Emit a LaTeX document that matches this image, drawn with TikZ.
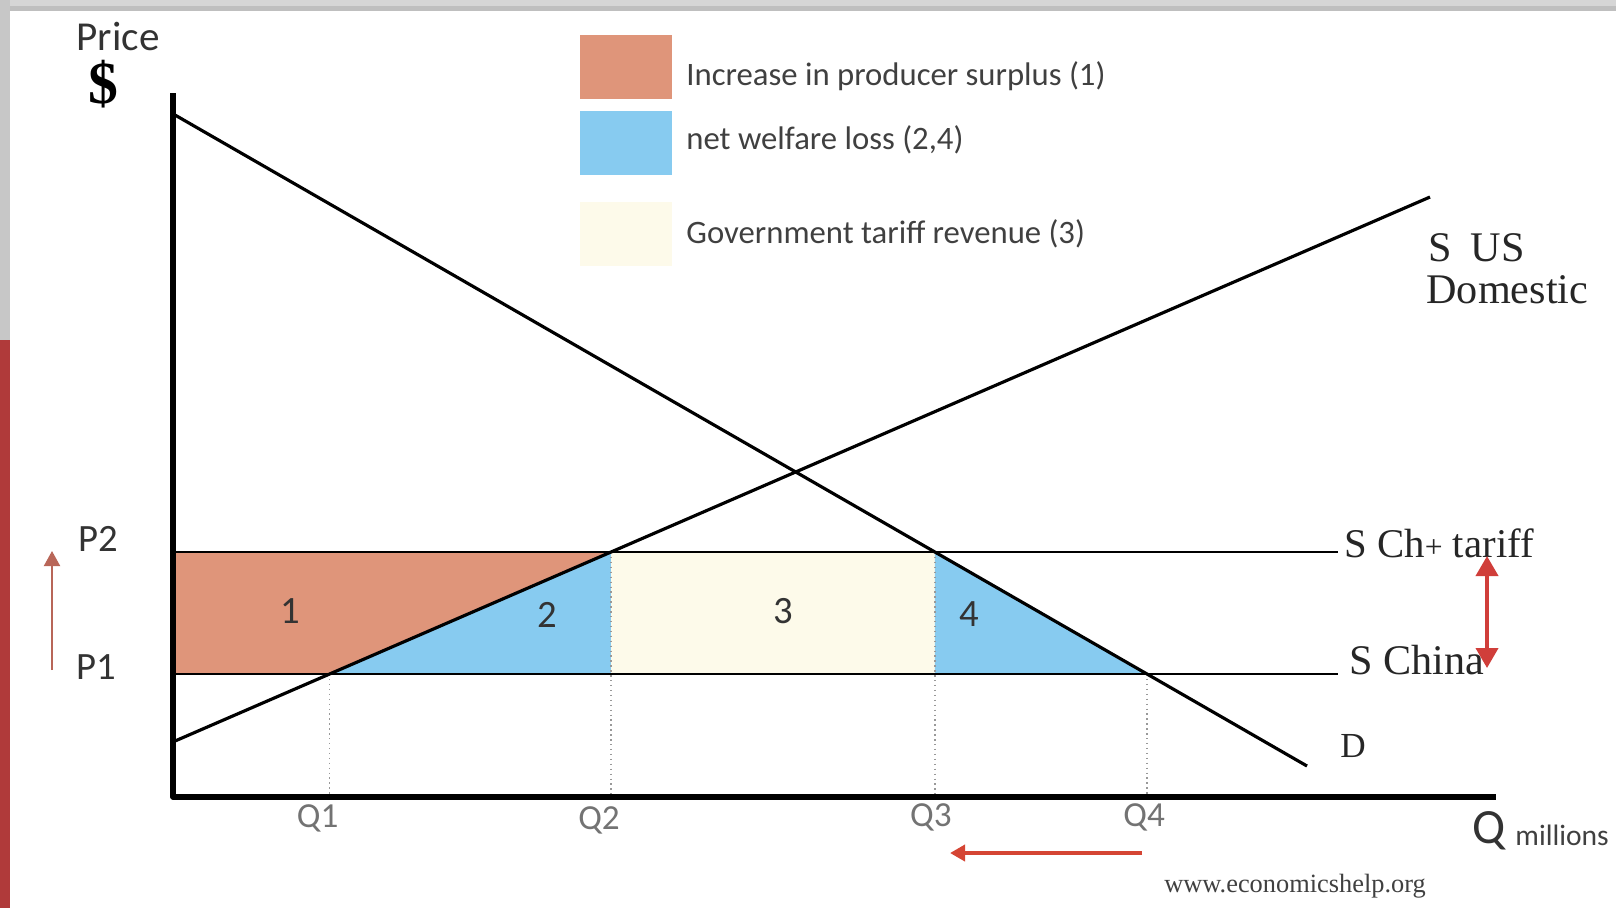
\documentclass[tikz,border=0pt]{standalone}
\usepackage{fontspec}
\setmainfont{Liberation Serif}
\newfontfamily\calib{Carlito}
\usetikzlibrary{arrows.meta,calc}
\definecolor{surplus}{RGB}{223,149,122}
\definecolor{loss}{RGB}{135,203,240}
\definecolor{revenue}{RGB}{253,250,234}
\definecolor{shiftred}{RGB}{208,62,58}
\definecolor{uparr}{RGB}{184,102,88}
\definecolor{slide}{RGB}{176,58,58}

\begin{document}
\begin{tikzpicture}[x=0.01cm,y=-0.01cm,
 lbl/.style={font=\calib\fontsize{11}{13}\selectfont,text=black!80},
 qlbl/.style={font=\calib\fontsize{10}{12}\selectfont,text=black!55,anchor=north},
 sup/.style={font=\fontsize{12}{14}\selectfont,text=black!85,anchor=west},
 leg/.style={font=\calib\fontsize{9.3}{11}\selectfont,text=black!75,anchor=west},
 key/.style={minimum width=0.92cm,minimum height=0.63cm,inner sep=0pt},
 curve/.style={line width=0.9pt},
 price/.style={line width=0.75pt},
 guide/.style={densely dotted,black!40,line width=0.4pt},
 ar/.style={-{Triangle[length=1.5mm,width=1.6mm]},line width=0.8pt}]
\useasboundingbox (0,0) rectangle (1616,908);
% slide frame
\fill[black!16] (0,0) rectangle (1616,11);
\fill[black!25] (0,6) rectangle (1616,11);
\fill[black!22] (0,0) rectangle (10,340);
\fill[slide] (0,340) rectangle (10,908);

% axes and curves
\coordinate (O) at (173,797);
\coordinate (ytop) at (173,93);
\coordinate (xend) at (1496,797);
\coordinate (dA) at (175,115);
\coordinate (dB) at (1307,766);
\coordinate (sA) at (175,741);
\coordinate (sB) at (1430,197);
\coordinate (p2a) at (173,552);
\coordinate (p2b) at (1338,552);
\coordinate (p1a) at (173,674);
\coordinate (p1b) at (1338,674);
\coordinate (e1) at (intersection of sA--sB and p1a--p1b);
\coordinate (e2) at (intersection of sA--sB and p2a--p2b);
\coordinate (e3) at (intersection of dA--dB and p2a--p2b);
\coordinate (e4) at (intersection of dA--dB and p1a--p1b);

\fill[surplus] (p2a) -- (e2) -- (e1) -- (p1a) -- cycle;
\fill[loss] (e1) -- (e2) -- (e2 |- p1a) -- cycle;
\fill[revenue] (e2) rectangle (e3 |- p1a);
\fill[loss] (e3) -- (e4) -- (e3 |- p1a) -- cycle;

\foreach \e in {e1,e2,e3,e4}
  \draw[guide] (\e) -- (\e |- O);
\draw[guide] (e2) -- (e2 |- p1a);
\draw[guide] (e3) -- (e3 |- p1a);

\draw[price] (p2a) -- (p2b);
\draw[price] (p1a) -- (p1b);
\draw[curve] (dA) -- (dB);
\draw[curve] (sA) -- (sB);
\draw[line width=1.5pt,line join=round] (ytop) -- (O) -- (xend);

% labels
\node[lbl,font=\calib\fontsize{11.7}{14}\selectfont,inner sep=1pt] (price) at (118,36) {Price};
\node[font=\bfseries\fontsize{17}{19}\selectfont,inner sep=0pt] (dollar) at (103,84) {\$};
\node[lbl] (p2) at (98,539) {P2};
\node[lbl] (p1) at (96,667) {P1};
\node[lbl] (r1) at (290,611) {1};
\node[lbl] (r2) at (547,615) {2};
\node[lbl] (r3) at (783,611) {3};
\node[lbl] (r4) at (969,614) {4};
\node[qlbl] (q1) at ($(e1 |- O)+(-12,-5)$) {Q1};
\node[qlbl] (q2) at ($(e2 |- O)+(-12,-3)$) {Q2};
\node[qlbl] (q3) at ($(e3 |- O)+(-4,-6)$) {Q3};
\node[qlbl] (q4) at ($(e4 |- O)+(-3,-6)$) {Q4};

\node[sup] (sus) at (1416,248) {S\hspace{0.45em}US};
\node[sup] (sdom) at (1414,290) {Domestic};
\node[sup,font=\fontsize{11.6}{14}\selectfont] (sct) at (1332,543) {S Ch{\fontsize{9}{10}\selectfont+} tariff};
\node[sup] (scn) at (1337,660) {S China};
\node[sup,font=\fontsize{10}{12}\selectfont] (dlbl) at (1328,746) {D};

\node[font=\calib\fontsize{14}{16}\selectfont,text=black!80] (qax) at (1489,831) {Q};
\node[font=\calib\fontsize{8.4}{10}\selectfont,text=black!75,anchor=west] (mil) at (1503,835) {millions};
\node[font=\fontsize{7.5}{9}\selectfont,text=black!75] (web) at (1295,886) {www.economicshelp.org};

% legend
\node[key,fill=surplus] (k1) at (626,67) {};
\node[key,fill=loss] (k2) at (626,143) {};
\node[key,fill=revenue] (k3) at (626,234) {};
\node[leg] (t1) at (674,76) {Increase in producer surplus (1)};
\node[leg] (t2) at (674,140) {net welfare loss (2,4)};
\node[leg] (t3) at (674,234) {Government tariff revenue (3)};

% shift arrows
\coordinate (ua) at (52,670);
\coordinate (ub) at (52,551);
\draw[ar,uparr,line width=0.6pt] (ua) -- (ub);
\coordinate (ta) at (1487,556);
\coordinate (tb) at (1487,668);
\draw[ar,shiftred,{Triangle[length=2mm,width=2.2mm]}-{Triangle[length=2mm,width=2.2mm]},line width=1.1pt] (ta) -- (tb);
\coordinate (la) at (1142,853);
\coordinate (lb) at (950,853);
\draw[ar,shiftred!90!orange,line width=1.1pt] (la) -- (lb);
\end{tikzpicture}
\end{document}
